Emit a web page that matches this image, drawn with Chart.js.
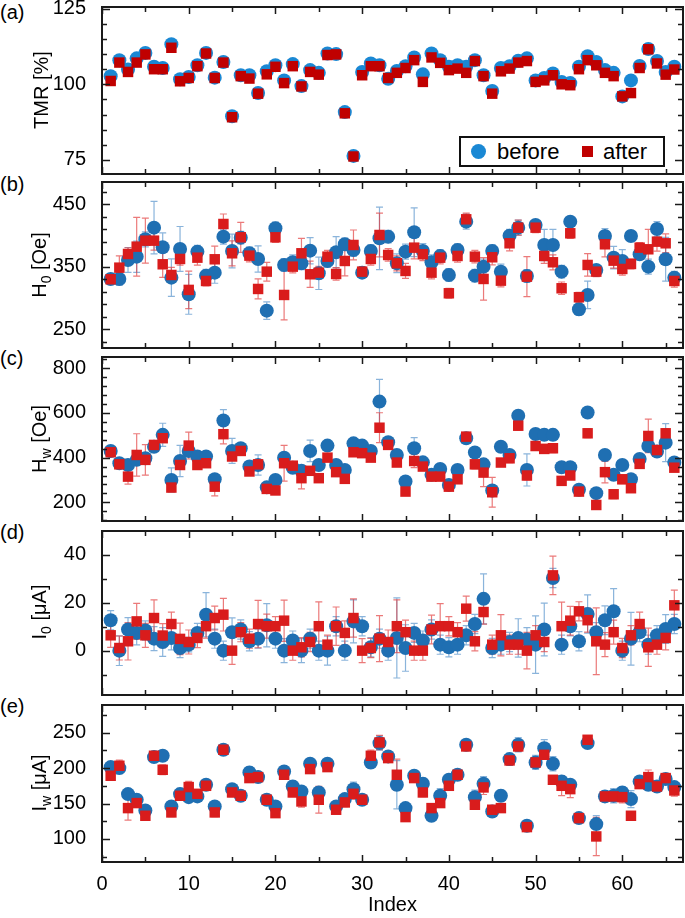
<!DOCTYPE html>
<html>
<head>
<meta charset="utf-8">
<script src="https://cdn.jsdelivr.net/npm/chart.js@4.4.1/dist/chart.umd.min.js"></script>
<style>
  body { margin: 0; background: #fff; width: 685px; height: 918px; position: relative; overflow: hidden;
         font-family: "Liberation Sans", Arial, sans-serif; color: #000; }
  .panel { position: absolute; left: 0; }
  .tag { position: absolute; left: 0; font-size: 20px; line-height: 20px; }
  .ytitle { position: absolute; left: 41px; font-size: 20px; white-space: nowrap;
            transform: translate(-50%, -50%) rotate(-90deg); }
  .ytitle sub { font-size: 14px; }
  .legend { position: absolute; left: 459px; top: 136px; width: 202px; height: 27px;
            border: 2px solid #111; background: #fff; font-size: 22px; }
  .legend span { position: absolute; top: 1px; }
  .dot { position: absolute; left: 10px; top: 6px; width: 15px; height: 15px; border-radius: 50%; background: #1a88d4; }
  .sq { position: absolute; left: 121px; top: 8px; width: 11px; height: 11px; background: #c00000; }
</style>
</head>
<body>
<div class="tag" style="top:2px">(a)</div>
<div class="tag" style="top:174px">(b)</div>
<div class="tag" style="top:348px">(c)</div>
<div class="tag" style="top:522px">(d)</div>
<div class="tag" style="top:696px">(e)</div>

<canvas id="cA" class="panel" width="685" height="180" style="top:0px"></canvas>
<canvas id="cB" class="panel" width="685" height="176" style="top:176px"></canvas>
<canvas id="cC" class="panel" width="685" height="176" style="top:350px"></canvas>
<canvas id="cD" class="panel" width="685" height="176" style="top:524px"></canvas>
<canvas id="cE" class="panel" width="685" height="220" style="top:698px"></canvas>

<div class="ytitle" style="top:90px">TMR [%]</div>
<div class="ytitle" style="top:265px">H<sub>0</sub> [Oe]</div>
<div class="ytitle" style="top:439px">H<sub>w</sub> [Oe]</div>
<div class="ytitle" style="top:612px">I<sub>0</sub> [μA]</div>
<div class="ytitle" style="top:783px">I<sub>w</sub> [μA]</div>

<div class="legend">
  <div class="dot"></div><span style="left:36px">before</span>
  <div class="sq"></div><span style="left:142px">after</span>
</div>

<script>
// sample index
const idx = [1,2,3,4,5,6,7,8,9,10,11,12,13,14,15,16,17,18,19,20,21,22,23,24,25,26,27,28,29,30,31,32,33,
  34,35,36,37,38,39,40,41,42,43,44,45,46,47,48,49,50,51,52,53,54,55,56,57,58,59,60,61,62,63,64,65,66];

// (a) TMR [%]
const tmrBefore = [102.7,108,104.9,108.6,110.4,105.8,105.4,113.3,101.7,102.4,106.3,110.4,102.2,107.4,89.4,103,103,97.1,104.3,106.3,
  101.3,106.7,99.4,104.7,103.8,110.2,110,90.8,76.3,104.1,106.9,106.3,101.8,104.4,106,108.9,103.3,110.2,108,105.8,
  106.3,105.8,108,103,97.8,105.4,106,107.8,108.6,101.3,102.1,103.6,100.8,100.4,105.8,109.3,107.4,104.7,103.8,96,
  101.3,106.1,111.7,107.7,104.1,105.8];
const tmrAfter = [101.1,107.2,104.1,107.2,109.9,105,105,112.1,101,102.1,106,110.2,102.1,107.2,89.1,102.7,101.9,96.9,103.3,105.8,
  100.4,106,99.3,104.1,103.2,109.7,109.9,90.4,76.1,103,106,106,102.1,103.8,105.4,108,100.8,108.9,107.1,104.7,
  105.2,103.8,107.7,102.7,96.9,104.3,105.2,107.2,107.7,100.8,101.3,103,100,99.7,105,108,106.3,103.8,102.7,96,
  97.1,105.4,111.6,106.9,103.2,104.9];

// (b) H0 [Oe]
const h0Before = [330.5,330.5,360.9,366.2,394,412.6,381.2,332.6,378.5,306,374.2,335.8,340.6,398.2,375.3,396.6,371.6,362.5,279.8,411.6,
  352.9,357.2,355.6,375.8,339.6,359.3,373.2,386,376.9,340.6,375.3,395.6,398.2,355.6,374.2,405.2,375.3,357.2,367.3,336.9,
  376.9,422.2,335.8,350.2,375.3,342.2,399.8,412.6,335.3,416.9,384.9,384.9,342.2,422.2,282,304.9,344.9,399.3,364.6,359.3,
  399.3,370,350.2,410.5,362,332.6];
const h0After = [330,348.6,370.5,382.2,391.8,391.8,354,336.9,362.5,313,364.6,327.3,362,418.5,371.6,397.2,367.8,314.5,342.2,397.2,
  304.9,350.2,371.6,338,340.6,366.2,338.5,359.3,384.9,342.2,362.5,400.9,368.9,355.6,343.3,380.6,370,340.6,364.6,307.6,
  367.3,426,366.2,330.5,365.2,327.8,387.6,412.6,334.2,412.6,367.3,357.2,315.6,403.6,301.2,352.9,342.2,386,359.8,346.5,
  354.5,380.6,378,390.2,387.6,327.3];
const h0ErrBefore = [8,10,20,25,12,42,23,30,36,32,10,10,17,12,27,10,10,21,14,10,10,12,10,21,26,10,25,10,10,8,
  10,50,10,15,12,39,12,12,10,10,10,12,10,12,10,12,10,12,10,8,25,25,10,8,10,22,8,12,18,18,8,8,12,12,35,10];
const h0ErrAfter = [8,19,10,47,36,15,21,12,10,30,12,8,21,16,20,24,10,16,15,8,40,10,24,21,10,10,10,24,24,8,
  10,35,10,12,12,18,10,10,10,8,10,10,10,34,12,10,12,12,32,8,12,12,10,8,8,18,8,20,12,10,8,8,32,15,15,10];

// (c) Hw [Oe]
const hwBefore = [430,375,367,390,397,449,502,300,385,430,405,405,303,566,430,442,360,367,267,300,
  400,355,341,430,367,454,367,345,464,454,430,651,469,412,293,442,379,323,349,278,
  345,487,423,370,253,449,412,588,345,506,502,502,357,357,256,602,241,412,323,367,
  303,394,452,427,467,378];
const hwAfter = [424,370,315,412,390,457,487,266,367,454,367,375,270,505,405,430,338,370,260,253,
  375,364,308,341,308,400,335,305,424,420,400,534,457,378,248,385,360,315,315,270,
  303,494,370,333,245,378,397,543,320,452,439,442,296,320,248,509,188,335,236,303,
  263,372,497,434,509,355];
const hwErrBefore = [14,16,15,18,13,17,52,54,70,20,14,16,13,49,56,15,12,45,16,14,15,18,13,48,15,17,14,16,20,13,
  15,99,16,20,14,48,20,15,20,13,16,15,20,14,17,20,20,15,72,16,25,25,14,15,13,20,15,20,16,20,15,13,16,15,85,20];
const hwErrAfter = [15,14,34,95,68,16,15,13,17,60,14,15,41,43,16,14,15,13,16,15,80,14,48,15,13,17,15,14,16,15,
  14,67,16,15,14,30,15,13,16,14,15,16,20,63,67,14,20,20,20,15,20,20,16,14,15,20,16,48,20,20,15,14,75,16,20,15];

// (d) I0 [μA]
const i0Before = [12.7,0,8.8,7.4,8.4,5,3.6,5.3,1.1,2.5,7.4,15,5,0,7.7,8.8,3.9,5,10.6,5,
  0,4.2,0,5,0,0,10.2,0,12.2,10.2,1.4,5,0,5.3,1.1,7.4,4.2,8.8,2.5,1.4,
  2.5,6.4,11.1,21.6,1.1,2.5,3.6,5.3,4.6,2.5,8.8,30.3,2.5,10.2,3.9,15.3,7.7,12.7,16.4,0,
  5,7.7,2.5,6.4,9,11.1];
const i0After = [6.4,1.1,3.9,12.2,6.4,13.6,6.3,11.1,4.9,3.6,5.3,10.2,13.6,15,0,7.7,5,11.1,10.2,10.2,
  12.5,0,1.4,3.6,10.2,2.5,10.2,7.4,13.6,0,1.1,5,3.6,10.2,7.7,0,0,8.8,10.2,10.2,
  7.7,17.5,3.9,16.1,2.5,6.4,2.5,2.5,0,6.4,3.6,31.4,10.2,12.5,16.4,12.7,3.9,2.5,7.7,1.1,
  6.4,11.1,1.4,2.5,5.3,18.9];
const i0ErrBefore = [4,6.2,5,5,4,5,6,5,4,3,4,9.2,4,4,6,4,4,4,9,4,5,4,5,4,4,6,4,4,9,4,
  4,4,4,16.7,9.7,4,4,4,4,4,4,4,4,10.4,4,4,4,8,5,12,11,4,4,4,4,8,4,6,9.5,4,11,4,4,4,6,4];
const i0ErrAfter = [5,5,7.8,7.5,5,7.6,5,5,6.6,5,4,5,5,6.8,5.7,4,4,9.9,5,4,8.6,4,4,4,10.1,4,8,5,8,5,
  4,9.6,5,11,5,4,4,6,9.4,4,4,5.2,4,5,4,8.6,4,4,7.6,4,4,8,10,6,4,5,13.9,5,5,4,4,5,8,4,5,6.3];

// (e) Iw [μA]
const iwBefore = [201.4,200,163.3,155.3,140.2,215.5,217.4,145.9,163.3,159,160,176.5,145.9,225.9,170.3,160.9,193.9,187.3,155.3,145.9,
  195.3,174.1,167,206.1,165.6,206.1,145.9,156.2,170.3,155.3,208,235.3,216.5,176.5,143.5,189.2,177.9,132.7,160.9,183.5,
  190.6,232.9,159,177.9,138.8,160.9,212.7,232.9,118.6,208,228.2,206.1,181.2,176.5,129.4,235.3,120.9,160,160.9,165.6,
  156.2,181.2,176.5,174.1,184.5,173.2];
const iwAfter = [189.2,203.3,143.5,150.6,132.7,217.4,197.6,137.4,160.9,173.2,163.7,175,137.4,225.9,165.6,160.9,185.9,187.3,155.3,136.4,
  190.6,165.6,152.9,198.6,155.3,201.4,141.2,151.5,163.7,155.3,217.4,236.2,214.1,190.6,130.8,185.9,165.6,143.5,150.6,175,
  190.6,230.6,148.2,172.7,141.2,143.5,210.8,230.6,116.7,208,218.8,183.5,175,170.3,129.4,240,103.5,160,160,159,
  132.7,177.4,187.3,174.1,185.9,168.4];
const iwErrBefore = [6,8,7,6,6,6,5,6,8,6,6,6,6,6,6,6,8,6,6,6,6,8,6,6,6,6,6,6,10,6,
  8,10,6,34,6,6,8,6,10,6,6,6,10,10,6,8,8,10,6,10,12,10,8,6,6,6,12,8,10,8,12,6,8,6,6,6];
const iwErrAfter = [6,8,17,6,6,6,7,6,6,8,6,6,6,6,6,6,6,6,6,6,6,6,8,6,19,6,6,6,8,6,
  8,10,6,22,6,6,6,6,6,6,6,6,6,10,6,6,7,7,6,6,6,6,14,12,6,6,27,6,6,8,6,6,10,6,6,8];

// tick labels
const indexLabels = [0, 10, 20, 30, 40, 50, 60];
const tmrLabels = [75, 100, 125];
const h0Labels = [250, 350, 450];
const hwLabels = [200, 400, 600, 800];
const i0Labels = [0, 20, 40];
const iwLabels = [100, 150, 200, 250];

Chart.defaults.font.family = '"Liberation Sans", Arial, sans-serif';
Chart.defaults.color = '#000';

function tickList(labels, step, min, max) {
    const vals = [];
    for (let v = labels[0]; v >= min - 1e-6; v -= step) vals.push(v);
    for (let v = labels[0] + step; v <= max + 1e-6; v += step) vals.push(v);
    vals.sort((a, b) => a - b);
    return vals.map(v => {
        const r = Math.round(v * 1000) / 1000;
        return { value: r, big: labels.includes(r) };
    });
}

const toPoints = ys => ys.map((v, i) => ({ x: idx[i], y: v }));

// error bars, drawn under the markers
const errorBars = {
    id: 'errorBars',
    beforeDatasetsDraw(chart) {
        const { ctx, scales: { x, y } } = chart;
        ctx.save();
        ctx.lineWidth = 1.2;
        [...chart.data.datasets].reverse().forEach(ds => {
            if (!ds.errors) return;
            ctx.strokeStyle = ds.errColor;
            ds.data.forEach((p, i) => {
                const e = ds.errors[i];
                const px = x.getPixelForValue(p.x);
                const y1 = y.getPixelForValue(p.y - e);
                const y2 = y.getPixelForValue(p.y + e);
                ctx.beginPath();
                ctx.moveTo(px, y1); ctx.lineTo(px, y2);
                ctx.moveTo(px - 3.5, y1); ctx.lineTo(px + 3.5, y1);
                ctx.moveTo(px - 3.5, y2); ctx.lineTo(px + 3.5, y2);
                ctx.stroke();
            });
        });
        ctx.restore();
    }
};

// gnuplot-like frame with inward ticks on all sides
const frameTicks = {
    id: 'frameTicks',
    afterDraw(chart) {
        const { ctx, chartArea: a, scales: { x, y } } = chart;
        ctx.save();
        ctx.strokeStyle = '#1a1a1a';
        ctx.lineWidth = 1.5;
        ctx.beginPath();
        x.ticks.forEach(t => {
            const px = Math.round(x.getPixelForValue(t.value)) + 0.5;
            const len = t.big ? 7 : 5;
            ctx.moveTo(px, a.bottom); ctx.lineTo(px, a.bottom - len);
            ctx.moveTo(px, a.top); ctx.lineTo(px, a.top + len);
        });
        y.ticks.forEach(t => {
            const py = Math.round(y.getPixelForValue(t.value)) + 0.5;
            const len = t.big ? 8 : 5;
            ctx.moveTo(a.left, py); ctx.lineTo(a.left + len, py);
            ctx.moveTo(a.right, py); ctx.lineTo(a.right - len, py);
        });
        ctx.stroke();
        ctx.lineWidth = 2;
        ctx.strokeRect(a.left, a.top, a.right - a.left, a.bottom - a.top);
        ctx.restore();
    }
};

function makePanel(id, cfg) {
    const showX = !!cfg.showX;
    const datasets = [
        {
            label: 'after', data: toPoints(cfg.after), errors: cfg.afterErr, errColor: cfg.redErr,
            pointStyle: 'rect', pointRadius: 7.4, backgroundColor: cfg.red, borderColor: cfg.red,
            borderWidth: 0, showLine: false, order: 0, clip: false
        },
        {
            label: 'before', data: toPoints(cfg.before), errors: cfg.beforeErr, errColor: cfg.blueErr,
            pointStyle: 'circle', pointRadius: 7, backgroundColor: cfg.blue, borderColor: cfg.blue,
            borderWidth: 0, showLine: false, order: 1, clip: false
        }
    ];

    new Chart(document.getElementById(id), {
        type: 'scatter',
        data: { datasets },
        plugins: [errorBars, frameTicks],
        options: {
            responsive: false,
            animation: false,
            events: [],
            layout: { autoPadding: false, padding: { top: cfg.padTop, bottom: cfg.padBottom, left: 0, right: 2 } },
            plugins: { legend: { display: false }, tooltip: { enabled: false } },
            scales: {
                x: {
                    type: 'linear', min: 0, max: 67,
                    grid: { display: false }, border: { display: false },
                    afterBuildTicks: s => { s.ticks = tickList(indexLabels, 5, 0, 67); },
                    ticks: {
                        display: showX, autoSkip: false, maxRotation: 0, padding: 2,
                        font: { size: 20 },
                        callback: (v, i, ticks) => ticks[i].big ? String(v) : ''
                    },
                    title: { display: showX, text: 'Index', font: { size: 20 }, padding: { top: 0, bottom: 1 } },
                    afterFit: s => { s.height = showX ? 56 : 0; s.paddingLeft = 0; s.paddingRight = 0; }
                },
                y: {
                    type: 'linear', min: cfg.min, max: cfg.max,
                    grid: { display: false }, border: { display: false },
                    afterBuildTicks: s => { s.ticks = tickList(cfg.labels, cfg.step, cfg.min, cfg.max); },
                    ticks: {
                        autoSkip: false, padding: 8, font: { size: 20 },
                        callback: (v, i, ticks) => ticks[i].big ? String(v) : ''
                    },
                    afterFit: s => { s.width = 102; s.paddingTop = 0; s.paddingBottom = 0; }
                }
            }
        }
    });
}

const blue = '#1f6fb2', red = '#d91c1c';
const blueErr = 'rgba(60,130,195,0.6)', redErr = 'rgba(225,50,50,0.65)';

makePanel('cA', { before: tmrBefore, after: tmrAfter, min: 70.3, max: 125.6, labels: tmrLabels, step: 5,
    padTop: 7, padBottom: 6, blue: '#1a88d4', red: '#c00000' });
makePanel('cB', { before: h0Before, after: h0After, beforeErr: h0ErrBefore, afterErr: h0ErrAfter,
    min: 220, max: 485.7, labels: h0Labels, step: 20, padTop: 6, padBottom: 4, blue, red, blueErr, redErr });
makePanel('cC', { before: hwBefore, after: hwAfter, beforeErr: hwErrBefore, afterErr: hwErrAfter,
    min: 116.3, max: 850.6, labels: hwLabels, step: 40, padTop: 7, padBottom: 5, blue, red, blueErr, redErr });
makePanel('cD', { before: i0Before, after: i0After, beforeErr: i0ErrBefore, afterErr: i0ErrAfter,
    min: -18.5, max: 49.9, labels: i0Labels, step: 10, padTop: 7, padBottom: 5, blue, red, blueErr, redErr });
makePanel('cE', { before: iwBefore, after: iwAfter, beforeErr: iwErrBefore, afterErr: iwErrAfter,
    min: 67.4, max: 289.1, labels: iwLabels, step: 25, padTop: 7, padBottom: 0, blue, red, blueErr, redErr, showX: true });
</script>
</body>
</html>
